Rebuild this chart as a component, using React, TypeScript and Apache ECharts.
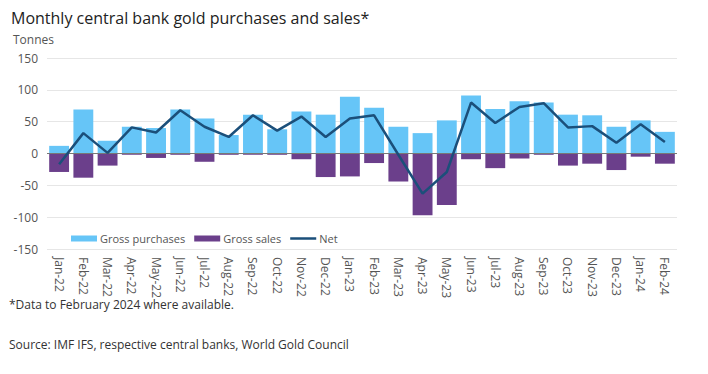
import React, { useEffect, useRef } from "react";
import * as echarts from "echarts";

const categories = [
  "Jan-22", "Feb-22", "Mar-22", "Apr-22", "May-22", "Jun-22", "Jul-22", "Aug-22", "Sep-22", "Oct-22", "Nov-22", "Dec-22",
  "Jan-23", "Feb-23", "Mar-23", "Apr-23", "May-23", "Jun-23", "Jul-23", "Aug-23", "Sep-23", "Oct-23", "Nov-23", "Dec-23",
  "Jan-24", "Feb-24",
];
const grossPurchases = [12, 69, 20, 42, 40, 69, 55, 29, 61, 38, 66, 61, 89, 72, 42, 32, 52, 91, 70, 82, 80, 61, 60, 42, 52, 34];
const grossSales = [-29, -38, -19, -2, -7, -2, -13, -2, -2, -2, -9, -37, -36, -15, -44, -97, -81, -9, -23, -8, -2, -19, -16, -26, -5, -16];
const net = [-17, 32, 1, 41, 33, 68, 42, 26, 60, 36, 58, 26, 55, 60, -2, -63, -29, 80, 48, 73, 79, 41, 43, 17, 46, 18];
const yTicks = { min: -150, max: 150, interval: 50 };

const FONT = "'Open Sans', 'Noto Sans', sans-serif";
const C_PUR = "#66C5F7";
const C_SAL = "#6B3F8B";
const C_NET = "#1B4F7A";

export default function App() {
  const ref = useRef<HTMLDivElement>(null);
  useEffect(() => {
    if (!ref.current) return;
    const chart = echarts.init(ref.current, undefined, { renderer: "svg" });
    chart.setOption({
      animation: false,
      backgroundColor: "#ffffff",
      textStyle: { fontFamily: FONT },
      title: {
        text: "Monthly central bank gold purchases and sales*",
        left: 6,
        top: 5,
        textStyle: { fontFamily: FONT, fontSize: 16, fontWeight: "normal", color: "#222222" },
      },
      graphic: [
        { type: "text", left: 13, top: 33, style: { text: "Tonnes", font: `12px ${FONT}`, fill: "#555555" } },
        { type: "text", left: 9, top: 298, style: { text: "*Data to February 2024 where available.", font: `12px ${FONT}`, fill: "#333333" } },
        { type: "text", left: 9, top: 338, style: { text: "Source: IMF IFS, respective central banks, World Gold Council", font: `12px ${FONT}`, fill: "#333333" } },
      ],
      legend: {
        left: 66,
        top: 228,
        itemWidth: 26,
        itemHeight: 6,
        itemGap: 9,
        textStyle: { fontFamily: FONT, fontSize: 11, color: "#555555", padding: [0, 0, 0, -2] },
        data: [
          { name: "Gross purchases", icon: "rect" },
          { name: "Gross sales", icon: "rect" },
          { name: "Net", icon: "path://M0 0H26V2.5H0Z" },
        ],
      },
      grid: { left: 47, right: 31, top: 58, bottom: 125 },
      xAxis: {
        type: "category",
        data: categories,
        axisLine: { show: false },
        axisTick: { show: false },
        axisLabel: { rotate: -90, color: "#555555", fontFamily: FONT, fontSize: 12, margin: 8, interval: 0 },
      },
      yAxis: {
        type: "value",
        min: yTicks.min,
        max: yTicks.max,
        interval: yTicks.interval,
        axisLabel: { color: "#555555", fontFamily: FONT, fontSize: 12, margin: 9 },
        splitLine: { lineStyle: { color: "#e6e6e6", width: 1 } },
        axisLine: { show: false },
        axisTick: { show: false },
      },
      series: [
        {
          name: "Gross purchases",
          type: "bar",
          data: grossPurchases,
          itemStyle: { color: C_PUR },
          barWidth: "82%",
          barGap: "-100%",
        },
        {
          name: "Gross sales",
          type: "bar",
          data: grossSales,
          itemStyle: { color: C_SAL },
          barWidth: "82%",
          barGap: "-100%",
          markLine: {
            silent: true,
            symbol: "none",
            label: { show: false },
            lineStyle: { color: "#777777", width: 1, type: "solid" },
            data: [{ yAxis: 0 }],
          },
        },
        {
          name: "Net",
          type: "line",
          data: net,
          symbol: "none",
          lineStyle: { color: C_NET, width: 2.5 },
          itemStyle: { color: C_NET },
          z: 5,
        },
      ],
    });
    return () => chart.dispose();
  }, []);
  return <div ref={ref} style={{ width: 708, height: 374, position: "absolute", left: 0, top: 0 }} />;
}
